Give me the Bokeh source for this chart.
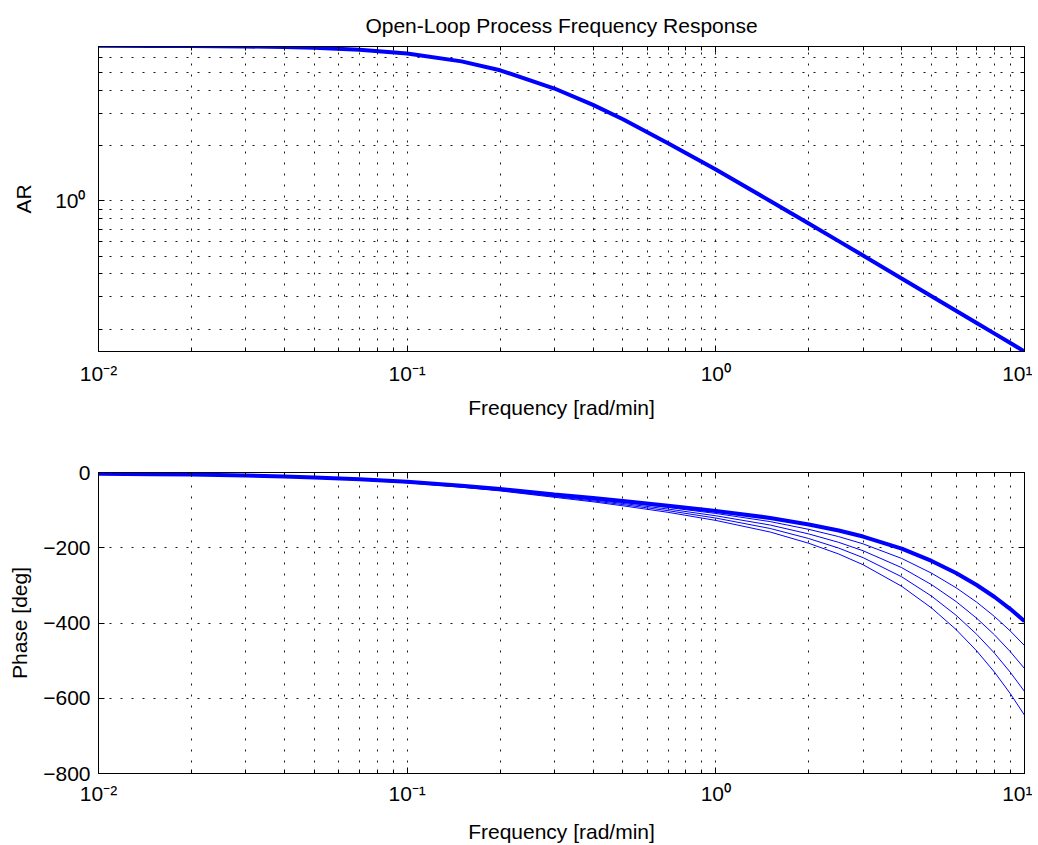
from bokeh.plotting import figure
from bokeh.layouts import column
from bokeh.models import (FixedTicker, CustomJSTickFormatter, LogAxis, LinearAxis,
                          Range1d, ColumnDataSource)
from bokeh.embed import file_html
from bokeh.resources import INLINE

# ---------------- data ----------------
freq = [0.01, 0.015, 0.02, 0.03, 0.04, 0.05, 0.07, 0.1, 0.15, 0.2, 0.3, 0.4, 0.5,
        0.7, 1.0, 1.5, 2.0, 2.5, 3.0, 4.0, 5.0, 6.0, 7.0, 8.0, 9.0, 10.0]

ar = [6.99, 6.98, 6.97, 6.93, 6.88, 6.82, 6.66, 6.35, 5.75, 5.14, 4.09, 3.33, 2.78,
      2.06, 1.48, 0.998, 0.752, 0.603, 0.503, 0.377, 0.302, 0.252, 0.216, 0.189, 0.168, 0.151]

phase_1 = [-3.0, -4.4, -5.6, -8.2, -10.8, -13.1, -18.1, -24.9, -35.4, -43.9, -58.4, -67.9, -76.0,
           -88.3, -102.4, -120.7, -138.1, -154.1, -170.2, -202.4, -235.1, -267.2, -299.1, -330.9, -363.0, -395.0]
phase_2 = [-3.0, -4.5, -5.7, -8.4, -11.1, -13.4, -18.6, -25.6, -36.4, -45.2, -60.4, -70.5, -79.2,
           -92.8, -108.9, -130.5, -151.1, -170.4, -189.7, -228.4, -267.6, -306.2, -344.6, -382.9, -421.5, -460.0]
phase_3 = [-3.1, -4.6, -5.9, -8.6, -11.3, -13.7, -19.0, -26.2, -37.3, -46.4, -62.2, -72.9, -82.3,
           -97.1, -115.0, -139.6, -163.3, -185.6, -208.0, -252.8, -298.1, -342.8, -387.3, -431.7, -476.4, -521.0]
phase_4 = [-3.1, -4.7, -6.0, -8.8, -11.6, -14.0, -19.4, -26.8, -38.2, -47.7, -64.1, -75.4, -85.3,
           -101.4, -121.1, -148.8, -175.5, -200.9, -226.3, -277.2, -328.6, -379.4, -430.0, -480.5, -531.3, -582.0]
phase_5 = [-3.2, -4.8, -6.1, -9.0, -11.8, -14.3, -19.9, -27.4, -39.1, -48.9, -65.9, -77.9, -88.5,
           -105.8, -127.4, -158.2, -188.1, -216.6, -245.2, -302.4, -360.1, -417.2, -474.1, -530.9, -588.0, -645.0]

x_major_ticks = [0.01, 0.1, 1.0, 10.0]
x_minor_ticks = [0.02, 0.03, 0.04, 0.05, 0.06, 0.07, 0.08, 0.09,
                 0.2, 0.3, 0.4, 0.5, 0.6, 0.7, 0.8, 0.9,
                 2, 3, 4, 5, 6, 7, 8, 9]
ar_major_ticks = [1.0]
ar_minor_ticks = [0.2, 0.3, 0.4, 0.5, 0.6, 0.7, 0.8, 0.9, 2, 3, 4, 5, 6]
phase_ticks = [-800, -600, -400, -200, 0]

title_text = "Open-Loop Process Frequency Response"
x_label = "Frequency [rad/min]"
ar_label = "AR"
phase_label = "Phase [deg]"

# ---------------- styling ----------------
FONT = "Liberation Sans"
FS = "21px"
BLUE = "#0000ff"
DOT = "2 9"

sup_js = """
const sup = {'-':'\u207b','0':'\u2070','1':'\u00b9','2':'\u00b2','3':'\u00b3','4':'\u2074',
             '5':'\u2075','6':'\u2076','7':'\u2077','8':'\u2078','9':'\u2079'};
const e = Math.round(Math.log10(tick));
return '10' + String(e).split('').map(c => sup[c]).join('');
"""
empty_js = "return '';"


def style_axis(ax, labels=True):
    ax.axis_line_color = "black"
    ax.major_tick_line_color = "black"
    ax.minor_tick_line_color = "black"
    ax.major_tick_in = 6
    ax.major_tick_out = 0
    ax.minor_tick_in = 4
    ax.minor_tick_out = 0
    ax.major_label_text_font = FONT
    ax.major_label_text_font_size = FS
    ax.major_label_text_color = "black"
    ax.axis_label_text_font = FONT
    ax.axis_label_text_font_size = FS
    ax.axis_label_text_font_style = "normal"
    ax.axis_label_text_color = "black"
    if not labels:
        ax.formatter = CustomJSTickFormatter(code=empty_js)
        ax.major_label_standoff = 0


def style_grid(fig, x_minor=True, y_minor=True):
    for g, minor in ((fig.xgrid[0], x_minor), (fig.ygrid[0], y_minor)):
        g.grid_line_color = "black"
        g.grid_line_dash = DOT
        g.grid_line_width = 1
        g.grid_line_alpha = 0.9
        if minor:
            g.minor_grid_line_color = "black"
            g.minor_grid_line_dash = DOT
            g.minor_grid_line_width = 1
            g.minor_grid_line_alpha = 0.9


W = 1032

# ---------------- top: amplitude ratio ----------------
p1 = figure(width=W, height=430, x_axis_type="log", y_axis_type="log",
            x_range=Range1d(0.01, 10), y_range=Range1d(0.151, 6.93),
            output_backend="svg", toolbar_location=None,
            min_border_left=98, min_border_right=8, min_border_top=46, min_border_bottom=79)
p1.title.text = title_text
p1.title.align = "center"
p1.title.vertical_align = "top"
p1.title.text_font = FONT
p1.title.text_font_size = FS
p1.title.text_font_style = "normal"
p1.title.text_color = "black"
p1.title.standoff = 16
p1.outline_line_color = "black"
p1.outline_line_width = 1
p1.background_fill_color = "white"
p1.border_fill_color = "white"

xt1 = FixedTicker(ticks=x_major_ticks, minor_ticks=x_minor_ticks)
yt1 = FixedTicker(ticks=ar_major_ticks, minor_ticks=ar_minor_ticks)
p1.xaxis.ticker = xt1
p1.yaxis.ticker = yt1
p1.xaxis.formatter = CustomJSTickFormatter(code=sup_js)
p1.yaxis.formatter = CustomJSTickFormatter(code=sup_js)
p1.xaxis.axis_label = x_label
p1.yaxis.axis_label = ar_label
style_axis(p1.xaxis[0])
style_axis(p1.yaxis[0])
p1.xaxis.major_label_standoff = 10
p1.xaxis.axis_label_standoff = 8
p1.yaxis.major_label_standoff = 13
p1.yaxis.axis_label_standoff = 17

top_ax = LogAxis(ticker=xt1)
right_ax = LogAxis(ticker=yt1)
style_axis(top_ax, labels=False)
style_axis(right_ax, labels=False)
p1.add_layout(top_ax, "above")
p1.add_layout(right_ax, "right")
style_grid(p1)

p1.line(freq, ar, line_color=BLUE, line_width=4)

# ---------------- bottom: phase ----------------
p2 = figure(width=W, height=415, x_axis_type="log",
            x_range=Range1d(0.01, 10), y_range=Range1d(-800, 0),
            output_backend="svg", toolbar_location=None,
            min_border_left=98, min_border_right=8, min_border_top=42, min_border_bottom=70)
p2.outline_line_color = "black"
p2.outline_line_width = 1
xt2 = FixedTicker(ticks=x_major_ticks, minor_ticks=x_minor_ticks)
yt2 = FixedTicker(ticks=phase_ticks, minor_ticks=[])
p2.xaxis.ticker = xt2
p2.yaxis.ticker = yt2
p2.xaxis.formatter = CustomJSTickFormatter(code=sup_js)
p2.xaxis.axis_label = x_label
p2.yaxis.axis_label = phase_label
style_axis(p2.xaxis[0])
style_axis(p2.yaxis[0])
p2.xaxis.major_label_standoff = 8
p2.xaxis.axis_label_standoff = 12
p2.yaxis.major_label_standoff = 8
p2.yaxis.axis_label_standoff = 9

top_ax2 = LogAxis(ticker=xt2)
right_ax2 = LinearAxis(ticker=yt2)
style_axis(top_ax2, labels=False)
style_axis(right_ax2, labels=False)
p2.add_layout(top_ax2, "above")
p2.add_layout(right_ax2, "right")
style_grid(p2, x_minor=True, y_minor=False)

src = ColumnDataSource(dict(f=freq, a=phase_1, b=phase_2, c=phase_3, d=phase_4, e=phase_5))
for col in ("e", "d", "c", "b"):
    p2.line("f", col, source=src, line_color=BLUE, line_width=1)
p2.line("f", "a", source=src, line_color=BLUE, line_width=4)

layout = column(p1, p2)
open("out.html", "w").write(file_html(layout, INLINE))
